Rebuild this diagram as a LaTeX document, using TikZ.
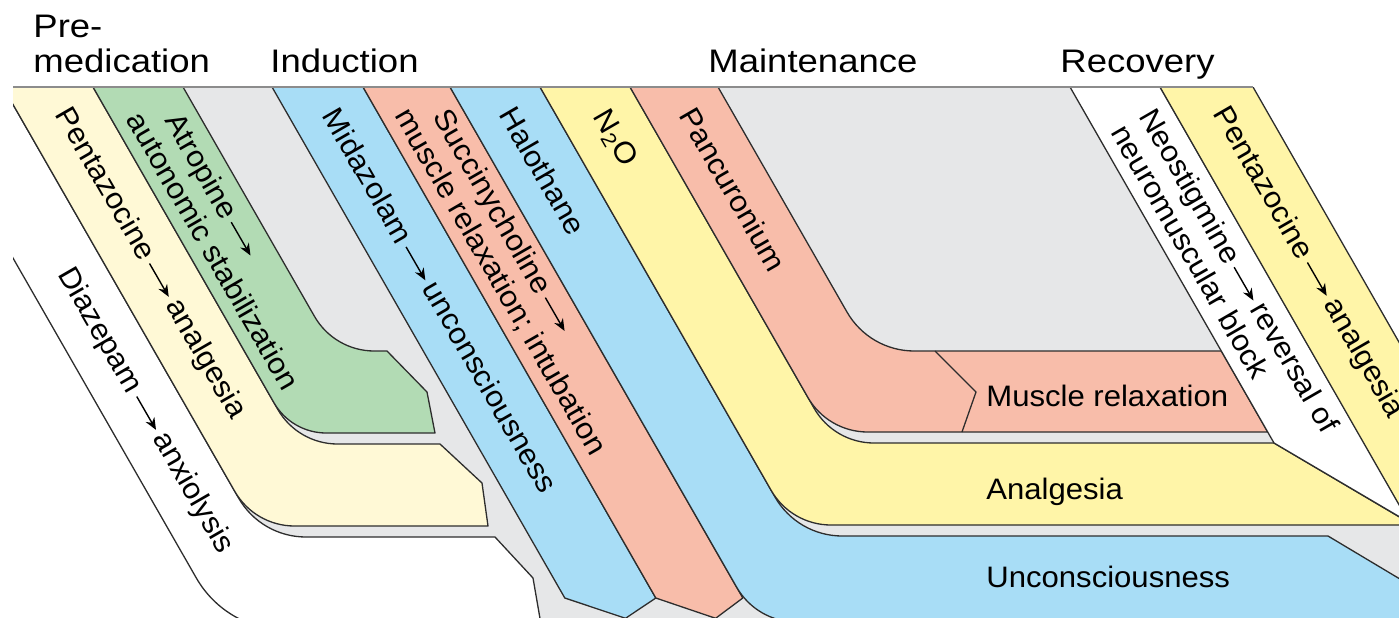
\documentclass[tikz,border=0pt]{standalone}
\usepackage{fontspec}
\setmainfont{Liberation Sans}[FakeStretch=1.05]
\newfontfamily\headfont{Liberation Sans}[FakeStretch=1.12]
\usepackage{tikz}
\usetikzlibrary{arrows.meta,positioning}

\definecolor{cream}{RGB}{255,249,214}
\definecolor{leaf}{RGB}{178,219,180}
\definecolor{fog}{RGB}{230,231,232}
\definecolor{sky}{RGB}{168,221,246}
\definecolor{peach}{RGB}{248,189,170}
\definecolor{lemon}{RGB}{255,245,168}
\definecolor{ink}{RGB}{45,45,45}

\tikzstyle{band}=[draw=ink, line width=0.65pt, line join=round]
\tikzstyle{lab}=[rotate=-60, anchor=west, inner sep=0pt, align=left, font=\fontsize{14.8}{16.4}\selectfont]
\tikzstyle{flat}=[anchor=base west, inner sep=0pt, font=\fontsize{14.8}{16.4}\selectfont]
\tikzstyle{phase}=[anchor=base west, inner sep=0pt, font=\headfont\fontsize{16.3}{17.5}\selectfont]

% turn of a band from the slope into the horizontal (and back)
\newcommand{\bendDown}[3]{-- ({#1-0.497*#3},{#2-0.868*#3}) .. controls ({#1-0.189*#3},{#2-0.330*#3}) and ({#1+0.38*#3},#2) .. ({#1+#3},#2)}
\newcommand{\bendUp}[3]{-- ({#1+#3},#2) .. controls ({#1+0.38*#3},#2) and ({#1-0.189*#3},{#2-0.330*#3}) .. ({#1-0.497*#3},{#2-0.868*#3})}
\newcommand{\drugto}{\,\tikz[baseline=-0.25em]\draw[-{Stealth[length=6pt,width=5pt]}, line width=0.7pt] (0,0) -- (1.3em,0);\,}

\begin{document}
\begin{tikzpicture}[x=0.5pt, y=-0.5pt]
\useasboundingbox (0,0) rectangle (1399,617);
%
\begin{scope}
  \clip (13,87) rectangle (1399,617);
  % grey ground
  \path[fill=fog] (3,87) -- (1253,87) -- (1558,620) -- (1420,630) -- (542,630) -- (533,578) -- (495,537) \bendUp{260.9}{537}{45} -- cycle;
  \draw[band] (542,630) -- (533,578) -- (495,537) \bendUp{260.9}{537}{45} -- (3,87);
  % premedication
  \draw[band] (-85,87) \bendDown{226.1}{630}{60} -- (400,630);
  \draw[band, fill=cream] (3,87) \bendDown{254.6}{526}{40} -- (488,526) -- (482,483) -- (440,444) \bendUp{297.6}{444}{40} -- (93,87) -- cycle;
  \draw[band, fill=leaf] (93,87) \bendDown{291.3}{433}{35} -- (435,433) -- (427,392) -- (387,351) \bendUp{334.3}{351}{40} -- (183,87) -- cycle;
  % induction
  \draw[band, fill=sky] (272,87) -- (564.8,598) -- (625.5,618.3) -- (655.8,598) -- (363,87) -- cycle;
  \draw[band, fill=peach] (363,87) -- (655.8,598) -- (715.6,618.3) -- (742.8,598) -- (450,87) -- cycle;
  % maintenance
  \draw[band, fill=sky] (450,87) \bendDown{756.6}{622}{40} -- (1420,622) -- (1420,591) -- (1328,536) \bendUp{797.3}{536}{45} -- (540,87) -- cycle;
  \draw[band, fill=lemon] (540,87) \bendDown{791}{525}{40} -- (1413,525) -- (1274,443) \bendUp{834}{443}{40} -- (630,87) -- cycle;
  \draw[band, fill=peach] (630,87) \bendDown{827.7}{432}{40} -- (1267.7,432) -- (1221.3,351) \bendUp{869.3}{351}{45} -- (718,87) -- cycle;
  \draw[band] (935,351) -- (976,392) -- (962,432);
  % recovery
  \draw[band, fill=white] (1070,87) -- (1274,443) -- (1410,523) -- (1160,87) -- cycle;
  \draw[band, fill=lemon] (1160,87) -- (1253,87) -- (1558,620) -- (1465,620) -- cycle;
\end{scope}
\draw[line width=1pt, draw=gray!90] (13,87) -- (1253,87);
%
\node[phase] (pre) at (33,37) {Pre-};
\node[phase] (med) at (33,72) {medication};
\node[phase] (ind) at (270,72) {Induction};
\node[phase] (mnt) at (708,72) {Maintenance};
\node[phase] (rec) at (1060,72) {Recovery};
%
\node[lab] (diaz) at (64,270) {Diazepam\drugto anxiolysis};
\node[lab] (pentA) at (61.2,110) {Pentazocine\drugto analgesia};
\node[lab] (atro) at (148.9,106) {\hspace*{10pt}Atropine\drugto\\autonomic stabilization};
\node[lab] (mida) at (330.7,110) {Midazolam\drugto unconsciousness};
\node[lab] (succ) at (415.7,103) {\hspace*{10pt}Succinycholine\drugto\\muscle relaxation; intubation};
\node[lab] (halo) at (507.6,109) {Halothane};
\node[lab] (nitro) at (599.3,112) {N\textsubscript{2}O};
\node[lab] (pancu) at (687.2,110) {Pancuronium};
\node[lab] (neo) at (1133.3,119) {Neostigmine\drugto reversal of\\neuromuscular block};
\node[lab] (pentB) at (1219.1,109) {Pentazocine\drugto analgesia};
%
\node[flat] (mrel) at (986,406) {Muscle relaxation};
\node[flat] (analg) at (986,499) {Analgesia};
\node[flat] (uncon) at (986,587) {Unconsciousness};
%
\end{tikzpicture}
\end{document}
